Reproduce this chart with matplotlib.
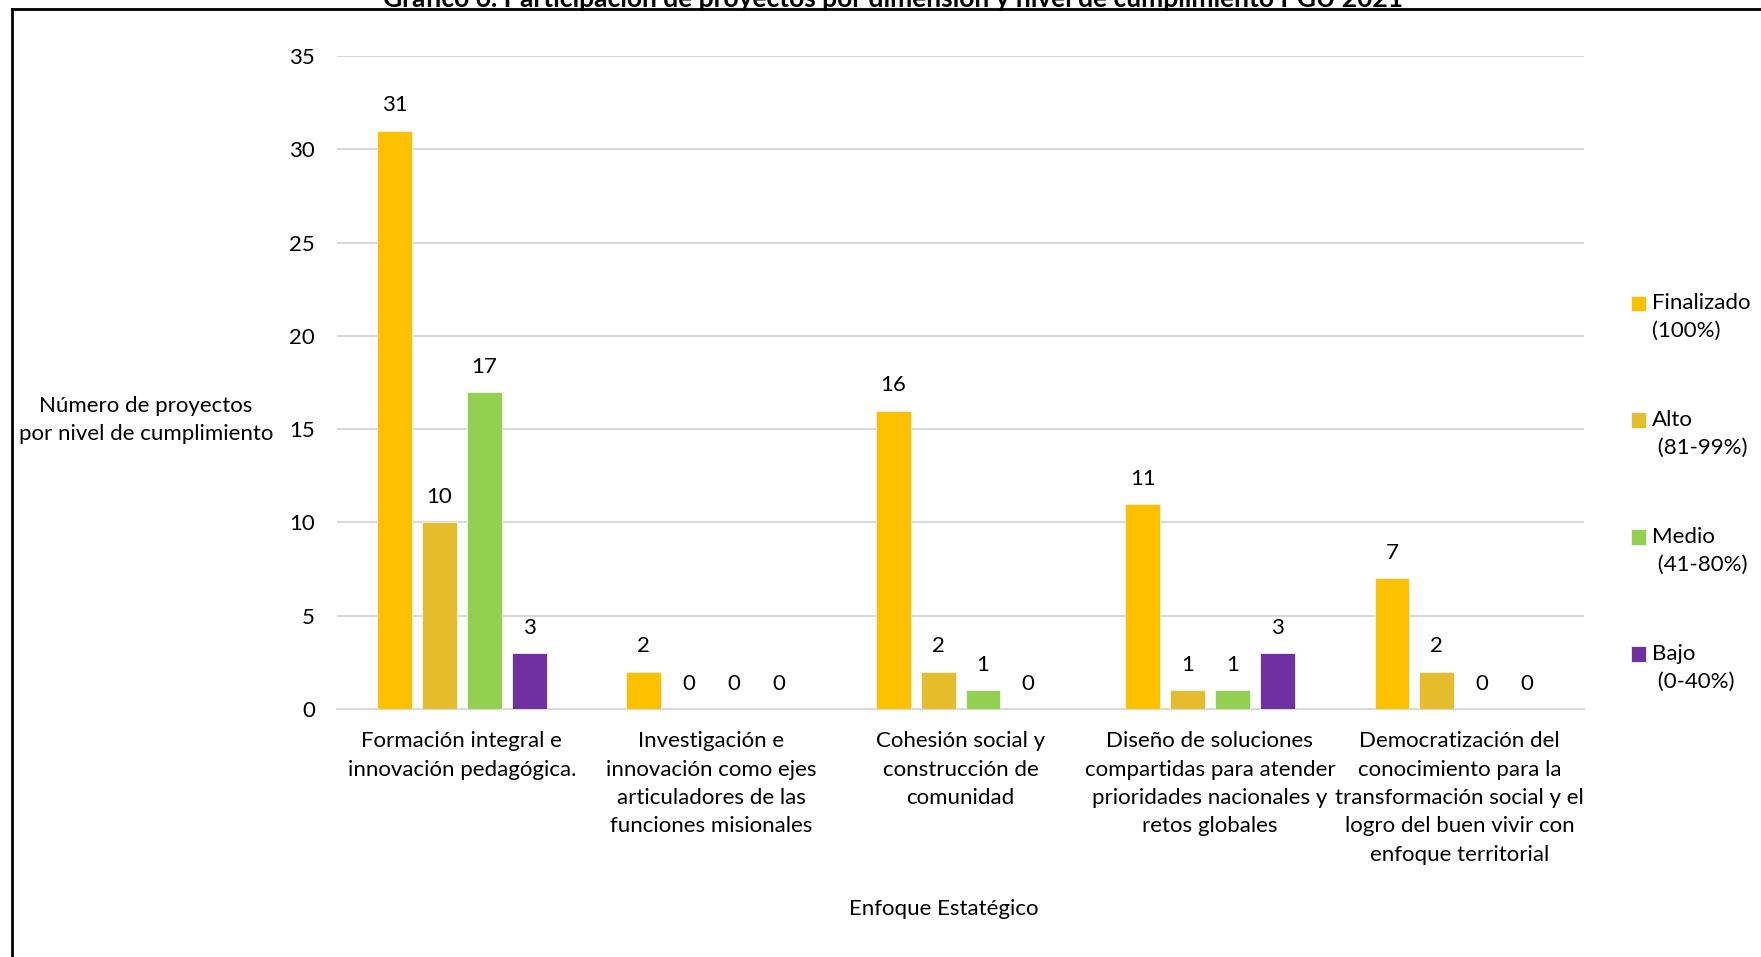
import numpy as np
import matplotlib
matplotlib.use('Agg')
import matplotlib.pyplot as plt
from matplotlib.lines import Line2D
from matplotlib.patches import Rectangle
from matplotlib.container import BarContainer
from matplotlib.legend_handler import HandlerPatch

plt.rcParams['font.family'] = ['Lato', 'DejaVu Sans']

categorias = ['Formación integral e\ninnovación pedagógica.',
              'Investigación e\ninnovación como ejes\narticuladores de las\nfunciones misionales',
              'Cohesión social y\nconstrucción de\ncomunidad',
              'Diseño de soluciones\ncompartidas para atender\nprioridades nacionales y\nretos globales',
              'Democratización del\nconocimiento para la\ntransformación social y el\nlogro del buen vivir con\nenfoque territorial']
finalizado = [31, 2, 16, 11, 7]
alto = [10, 0, 2, 1, 2]
medio = [17, 0, 1, 1, 0]
bajo = [3, 0, 0, 3, 0]
series = ['Finalizado\n(100%)', 'Alto\n (81-99%)', 'Medio\n (41-80%)', 'Bajo\n (0-40%)']
colores = ['#FFC000', '#E5BC2B', '#92D050', '#7030A0']

fs = 16

fig = plt.figure(figsize=(17.61, 9.57), dpi=100)
ax = fig.add_axes([0.1914, 0.2591, 0.7081, 0.6824])

x = np.arange(len(categorias))
paso = 0.18
ancho = 0.14
for i, (vals, nombre, col) in enumerate(zip([finalizado, alto, medio, bajo], series, colores)):
    barras = ax.bar(x + (i - 1.5) * paso, vals, ancho, color=col, label=nombre,
                    edgecolor='#F4F4F4', linewidth=0.6, zorder=3)
    ax.bar_label(barras, padding=11, fontsize=fs, color='black')

ax.set_xlim(-0.5, len(categorias) - 0.5)
ax.set_ylim(0, 35)
ax.set_yticks(range(0, 36, 5))
ax.set_xticks(x)
ax.set_xticklabels(categorias, fontsize=fs, linespacing=1.52)
ax.tick_params(axis='y', length=0, pad=16, labelsize=fs)
ax.tick_params(axis='x', length=0, pad=16)
ax.grid(axis='y', color='#D9D9D9', linewidth=1.5, zorder=0)
for s in ['top', 'right', 'left']:
    ax.spines[s].set_visible(False)
ax.spines['bottom'].set_color('#D9D9D9')
ax.spines['bottom'].set_linewidth(1.5)

fig.text(0.083, 0.561, 'Número de proyectos\npor nivel de cumplimiento', fontsize=fs,
         ha='center', va='center', linespacing=1.52)
fig.text(0.536, 0.050, 'Enfoque Estatégico', fontsize=fs, ha='center', va='center')

fig.text(0.507, 0.9927, 'Gráfico 6. Participación de proyectos por dimensión y nivel de cumplimiento PGU 2021',
         fontsize=19, fontweight='bold', ha='center', va='baseline')

# marco del documento
fig.add_artist(Line2D([0.0068, 1.0], [0.9906, 0.9906], color='black', linewidth=2))
fig.add_artist(Line2D([0.0068, 0.0068], [0.0, 0.9906], color='black', linewidth=2))


# cuadro de la leyenda junto a la primera linea del texto
def cuadro_arriba(legend, orig_handle, xdescent, ydescent, width, height, fontsize):
    lado = 0.7 * fontsize
    return Rectangle((-xdescent, -ydescent + 0.62 * fontsize), lado, lado)


def color_barra(handle, orig):
    handle.update_from(orig.patches[0])


leg = fig.legend(loc='upper left', bbox_to_anchor=(0.926, 0.694), frameon=False,
                 fontsize=fs, handlelength=0.7, handleheight=0.7, handletextpad=0.25,
                 labelspacing=3.1, borderaxespad=0, borderpad=0,
                 handler_map={BarContainer: HandlerPatch(patch_func=cuadro_arriba,
                                                         update_func=color_barra)})
for t in leg.get_texts():
    t.set_linespacing(1.5)

fig.savefig('out.png', dpi=100)
